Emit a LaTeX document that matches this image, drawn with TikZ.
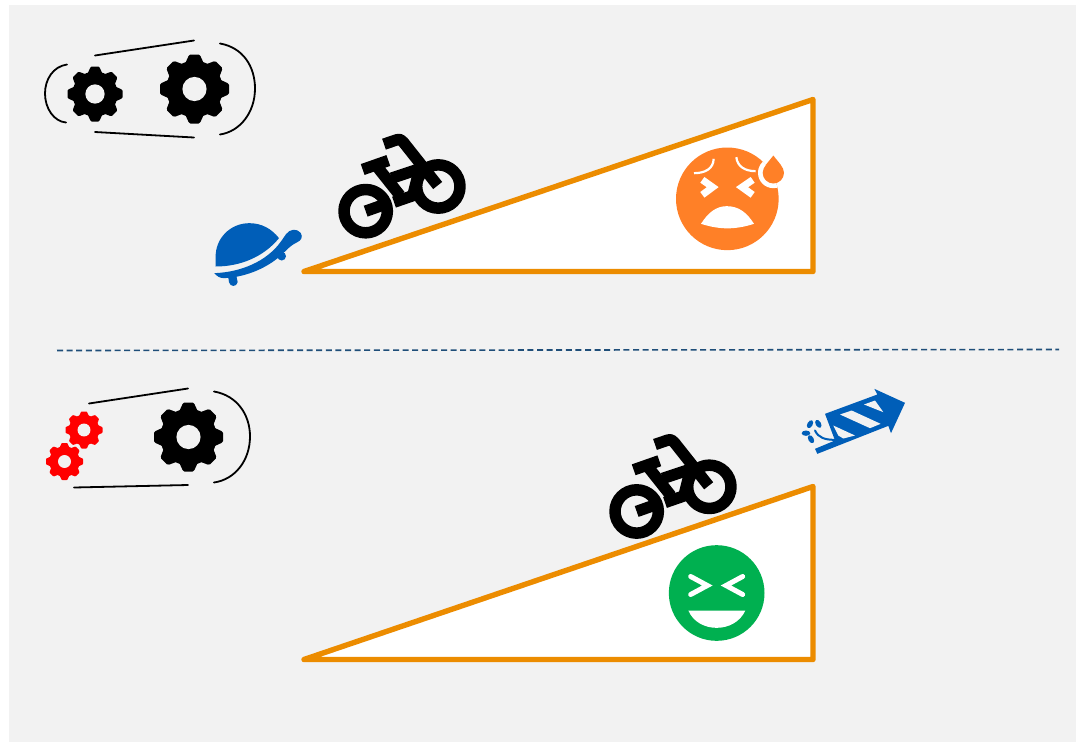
\documentclass[tikz,border=0pt]{standalone}
\definecolor{bggray}{HTML}{F2F2F2}
\definecolor{ramp}{HTML}{EC8C00}
\definecolor{iconblue}{HTML}{005EB8}
\definecolor{sweat}{HTML}{FF8027}
\definecolor{happy}{HTML}{00B050}
\definecolor{divider}{HTML}{1F4E79}
\tikzset{
  ramp line/.style={draw=ramp,fill=white,line width=5.4pt,line join=round,line cap=round},
  belt/.style={draw=black,line width=1.8pt,line cap=round},
  bikeline/.style={draw=black,line width=11.5pt,line cap=butt,line join=round},
  faceline/.style={draw=white,line cap=butt,line join=miter},
}
\newcommand{\mygear}[4]{%
  \begin{scope}[shift={(#1,#2)}]
    \fill[#4] (0,0) circle ({0.82*#3});
    \foreach \a in {0,45,...,315}{
      \fill[#4,rotate=\a] ({0.70*#3},{-0.29*#3}) -- ({0.96*#3},{-0.17*#3})
        -- ({#3},{-0.12*#3}) -- ({#3},{0.12*#3}) -- ({0.96*#3},{0.17*#3}) -- ({0.70*#3},{0.29*#3}) -- cycle;
    }
    \fill[bggray] (0,0) circle ({0.35*#3});
  \end{scope}}
\newcommand{\mybike}[2]{%
  \begin{scope}[shift={(#1,#2)},scale=1/3]
    \draw[bikeline] (497,257) circle (65);
    \draw[bikeline] (715,183) circle (65);
    \draw[bikeline] (497,257) -- (545,240);
    \draw[bikeline] (488,132) -- (565,105);
    \draw[bikeline] (530,122) -- (600,210);
    \draw[bikeline] (575,158) -- (665,128);
    \draw[bikeline] (582,230) -- (660,203);
    \draw[bikeline] (655,145) -- (640,205);
    \draw[bikeline] (552,56) -- (590,43) .. controls (600,40) and (605,44) .. (610,50) -- (713,180);
  \end{scope}}
\begin{document}
\begin{tikzpicture}[x=1pt,y=-1pt]
\useasboundingbox (0,0) rectangle (1076,742);
\fill[white] (0,0) rectangle (1076,742);
\fill[bggray] (9,5) rectangle (1076,742);

% top belt and gears
\mygear{95}{94}{27.5}{black}
\mygear{194.5}{89}{34.5}{black}
\draw[belt] (95,55.5) -- (194,40.5);
\draw[belt] (95,132) -- (194,137.5);
\draw[belt] (220,43.5) .. controls (243,47.5) and (255,66.5) .. (255,88.5) .. controls (255,112.5) and (240,131.5) .. (220,134.5);
\draw[belt] (67,64.5) .. controls (53,66.5) and (45,79.5) .. (45,93.5) .. controls (45,108.5) and (54,121.5) .. (66,122.5);

% bottom belt and gears
\mygear{84}{430}{18.5}{red}
\mygear{64.5}{461.5}{18.5}{red}
\mygear{188.5}{437}{34.5}{black}
\draw[belt] (89,403.5) -- (188,388.5);
\draw[belt] (74,487.5) -- (188,485);
\draw[belt] (214,391.5) .. controls (237,395.5) and (250,414.5) .. (250,436.5) .. controls (250,460.5) and (235,479.5) .. (214,482.5);

% ramps
\draw[ramp line] (304,271.5) -- (813,271.5) -- (813,99.5) -- cycle;
\draw[ramp line] (304,659.5) -- (813,659.5) -- (813,486.5) -- cycle;

% divider
\draw[divider,line width=1.6pt,dash pattern=on 6pt off 3.6pt] (57,350.5) -- (1059,349.5);

% bikes
\mybike{200}{125.5}
\mybike{471}{425.8}

% turtle
\begin{scope}[shift={(200,125.5)},scale=1/3]
  \fill[iconblue] (47,423) -- (47,396) .. controls (45,340) and (90,293) .. (148,293)
     .. controls (185,293) and (215,310) .. (237,338)
     .. controls (190,395) and (120,423) .. (47,423) -- cycle;
  \fill[iconblue] (43,443) .. controls (120,440) and (200,410) .. (245,345)
     -- (258,326) .. controls (270,310) and (290,308) .. (302,322)
     .. controls (310,335) and (303,345) .. (292,350)
     .. controls (275,358) and (265,368) .. (255,378)
     .. controls (210,425) and (140,455) .. (72,458)
     .. controls (60,458) and (50,452) .. (43,443) -- cycle;
  \fill[iconblue] (245,392) circle (13);
  \fill[iconblue] (84,450) -- (87,470) .. controls (90,485) and (110,485) .. (113,470) -- (108,445) -- cycle;
\end{scope}

% sweating face
\begin{scope}[shift={(660,140.5)},scale=1/3]
  \fill[sweat] (202,175) circle (154);
  \begin{scope}
    \clip (202,175) circle (154);
    \fill[white] (340,97) circle (46);
    \fill[white] (340,25) -- (296,85) -- (384,85) -- cycle;
  \end{scope}
  \fill[sweat] (340,45) .. controls (355,65) and (372,80) .. (372,97)
     .. controls (372,115) and (357,129) .. (340,129)
     .. controls (323,129) and (308,115) .. (308,97)
     .. controls (308,80) and (325,65) .. (340,45) -- cycle;
  \draw[faceline,line width=7pt] (127,118) -- (158,140) -- (127,163);
  \draw[faceline,line width=7pt] (278,118) -- (246,140) -- (278,163);
  \draw[faceline,line width=2.2pt] (102,98) .. controls (135,98) and (160,85) .. (161,55);
  \draw[faceline,line width=2.2pt] (229,50) .. controls (232,78) and (255,92) .. (287,92);
  \fill[white] (123,250) .. controls (145,215) and (170,197) .. (200,197)
     .. controls (235,197) and (260,215) .. (282,250)
     .. controls (225,268) and (180,268) .. (123,250) -- cycle;
\end{scope}

% happy face
\begin{scope}[shift={(600,430.5)},scale=1/3]
  \fill[happy] (350,487.5) circle (143.5);
  \draw[white,line width=5pt,line cap=round,line join=miter] (272,438) -- (322,465) -- (272,492);
  \draw[white,line width=5pt,line cap=round,line join=miter] (428,438) -- (378,465) -- (428,492);
  \fill[white] (265,540) -- (436,540) .. controls (420,575) and (385,592) .. (350,592)
     .. controls (315,592) and (280,575) .. (265,540) -- cycle;
\end{scope}

% rocket
\begin{scope}[shift={(790,380.5)},scale=1/3]
  \fill[iconblue] (105,100) -- (262,42) -- (253,25) -- (345,67) -- (303,158) -- (295,136)
     -- (82,220) -- (75,205) -- (135,180) -- cycle;
  \fill[bggray] (150,102) -- (185,90) -- (272,130) -- (240,143) -- cycle;
  \fill[bggray] (222,72) -- (255,60) -- (280,95) -- cycle;
  \fill[bggray] (130,135) -- (195,165) -- (160,174) -- (145,165) -- cycle;
  \draw[iconblue,line width=2pt,line cap=round] (75,150) .. controls (85,172) and (105,178) .. (135,178);
  \fill[iconblue,rotate around={60:(60,131)}] (60,131) ellipse (13 and 8);
  \fill[iconblue,rotate around={-60:(85,130)}] (85,130) ellipse (13 and 8);
  \fill[iconblue] (48,158) ellipse (13 and 8);
  \fill[iconblue,rotate around={-60:(63,176)}] (63,176) ellipse (13 and 8);
\end{scope}
\end{tikzpicture}
\end{document}
